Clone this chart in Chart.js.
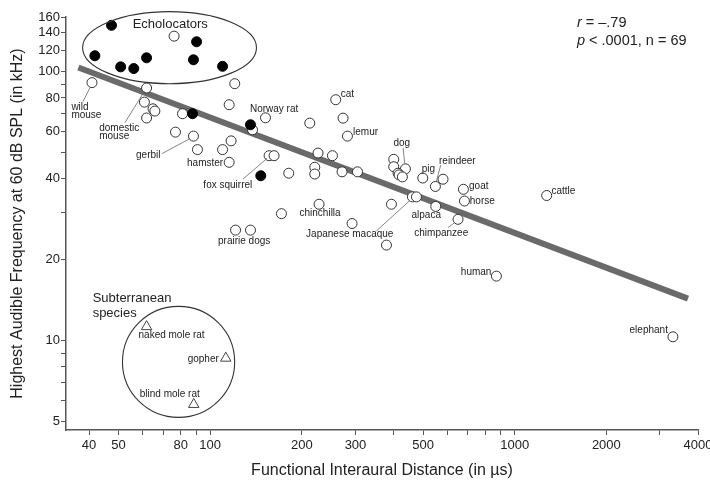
<!DOCTYPE html>
<html>
<head>
<meta charset="utf-8">
<script src="https://cdn.jsdelivr.net/npm/chart.js@4.4.1/dist/chart.umd.min.js"></script>
<style>
    html, body { margin: 0; background: #fff; }
    #wrap { width: 710px; height: 481px; }
</style>
</head>
<body>
<div id="wrap"><canvas id="chart"></canvas></div>
<script>
// Functional interaural distance (µs) vs highest audible frequency (kHz)
const openIAD  = [40.9, 61.8, 120.4, 115.4, 60.8, 64.9, 65.8, 61.8, 81.1, 151.9, 212.3, 137.7, 76.9, 88.1, 90.8, 109.8, 117.1, 115.4, 156.1, 162.1, 181.1, 220.5, 220.5, 226, 258.4, 273.1, 282.3, 252, 271, 304.6, 400.6, 400.6, 437.7, 414, 417.1, 427.8, 499, 549, 581.6, 678.6, 684, 227.8, 171.4, 393.7, 461.5, 475.7, 550.5, 651.6, 292.3, 379.2, 121.1, 135.6, 1274, 870.9, 3309, 76.1];
const openFreq = [91.2, 87.1, 90.4, 75.5, 77.2, 72.9, 71.5, 67.4, 69.9, 67.5, 64.5, 60.9, 59.7, 57.7, 51.4, 51.4, 55.4, 46.1, 48.8, 48.8, 42.0, 44.2, 41.7, 49.9, 78.8, 67.3, 57.7, 48.8, 42.5, 42.5, 47.3, 44.4, 43.6, 42.0, 41.4, 40.7, 40.3, 37.5, 39.9, 36.6, 33.1, 32.2, 29.7, 32.2, 34.3, 34.3, 31.6, 28.3, 27.3, 22.7, 25.8, 25.8, 34.7, 17.4, 10.35, 135.8];

const echoIAD  = [47.4, 41.8, 50.8, 56.1, 61.8, 90.2, 88.1, 109.8, 87.5, 135.6, 146.6];
const echoFreq = [149, 114.8, 104.4, 102.9, 112.8, 129.4, 110.9, 104.9, 69.9, 63.6, 41.1];

const subIAD  = [61.8, 112.5, 88.3];
const subFreq = [11.29, 8.62, 5.8];

const fitIAD  = [36.9, 3707];
const fitFreq = [103.8, 14.35];

const xTicks  = [40, 50, 60, 70, 80, 90, 100, 200, 300, 400, 500, 600, 700, 800, 900, 1000, 2000, 3000, 4000];
const xLabels = [40, 50, 80, 100, 200, 300, 500, 1000, 2000, 4000];
const yTicks  = [5, 6, 7, 8, 9, 10, 20, 30, 40, 50, 60, 70, 80, 90, 100, 120, 140, 160];
const yLabels = [5, 10, 20, 40, 60, 80, 100, 120, 140, 160];

// species names: anchored on a point, nudged in pixels
const pointLabels = [
    { text: 'wild', x: 40.9, y: 91.2, dx: -20.6, dy: 24.3, align: 'left' },
    { text: 'mouse', x: 40.9, y: 91.2, dx: -20.6, dy: 32.7, align: 'left' },
    { text: 'domestic', x: 61.8, y: 87.1, dx: -47.4, dy: 40, align: 'left' },
    { text: 'mouse', x: 61.8, y: 87.1, dx: -47.4, dy: 48.4, align: 'left' },
    { text: 'gerbil', x: 88.1, y: 57.7, dx: -33, dy: 18.7, align: 'right' },
    { text: 'hamster', x: 115.4, y: 46.1, dx: -6, dy: 1, align: 'right' },
    { text: 'fox squirrel', x: 156.1, y: 48.8, dx: -41.3, dy: 29.3, align: 'center' },
    { text: 'Norway rat', x: 151.9, y: 67.5, dx: 8.6, dy: -8.3, align: 'center' },
    { text: 'cat', x: 258.4, y: 78.8, dx: 5, dy: -5.3, align: 'left' },
    { text: 'lemur', x: 282.3, y: 57.7, dx: 5.6, dy: -4, align: 'left' },
    { text: 'dog', x: 437.7, y: 43.6, dx: -3.7, dy: -26, align: 'center' },
    { text: 'pig', x: 499, y: 40.3, dx: 5.7, dy: -9, align: 'center' },
    { text: 'reindeer', x: 549, y: 37.5, dx: 3.6, dy: -25.6, align: 'left' },
    { text: 'goat', x: 678.6, y: 36.6, dx: 5.6, dy: -2.7, align: 'left' },
    { text: 'horse', x: 684, y: 33.1, dx: 5.3, dy: 0, align: 'left' },
    { text: 'cattle', x: 1274, y: 34.7, dx: 4.7, dy: -4.6, align: 'left' },
    { text: 'alpaca', x: 550.5, y: 31.6, dx: -9.5, dy: 8.7, align: 'center' },
    { text: 'chimpanzee', x: 651.6, y: 28.3, dx: -16.8, dy: 14.3, align: 'center' },
    { text: 'human', x: 870.9, y: 17.4, dx: -5, dy: -4, align: 'right' },
    { text: 'elephant', x: 3309, y: 10.35, dx: -5, dy: -6.3, align: 'right' },
    { text: 'chinchilla', x: 227.8, y: 32.2, dx: 1, dy: 9, align: 'center' },
    { text: 'Japanese macaque', x: 461.5, y: 34.3, dx: -62.7, dy: 37.3, align: 'center' },
    { text: 'prairie dogs', x: 121.1, y: 25.8, dx: 8.6, dy: 10.7, align: 'center' },
    { text: 'naked mole rat', x: 61.8, y: 11.29, dx: 25, dy: 9, align: 'center' },
    { text: 'gopher', x: 112.5, y: 8.62, dx: -7, dy: 0.7, align: 'right' },
    { text: 'blind mole rat', x: 88.3, y: 5.8, dx: -24, dy: -10.3, align: 'center' }
];

// leader lines from a point out to its name
const leaders = [
    { x: 40.9, y: 91.2, from: [-2, 5], to: [-9, 19] },
    { x: 61.8, y: 87.1, from: [-2, 3], to: [-21.7, 34.7] },
    { x: 88.1, y: 57.7, from: [-3.5, 2.5], to: [-31.5, 17.5] },
    { x: 156.1, y: 48.8, from: [-2, 2.6], to: [-26, 23.3] },
    { x: 437.7, y: 43.6, from: [-2.4, -21], to: [-0.7, -5.3] },
    { x: 549, y: 37.5, from: [5.3, -21.3], to: [1, -5.3] },
    { x: 651.6, y: 28.3, from: [-10, 8.3], to: [-3, 3] },
    { x: 461.5, y: 34.3, from: [-3, 4], to: [-36, 34] }
];

// group outlines, as data-space bounding boxes
const groups = [
    { x0: 38.1, x1: 141.9, y0: 90.4, y1: 167.5 },
    { x0: 51.5, x1: 120.3, y0: 5.19, y1: 13.43 }
];

const FONT = 'Arial, "Liberation Sans", sans-serif';

function toPoints(xs, ys) {
    return xs.map((v, i) => ({ x: v, y: ys[i] }));
}

const annotate = {
    id: 'annotate',
    afterDatasetsDraw(chart) {
        const { ctx, scales: { x, y } } = chart;
        const px = v => x.getPixelForValue(v);
        const py = v => y.getPixelForValue(v);
        ctx.save();

        ctx.strokeStyle = '#333';
        ctx.lineWidth = 1.1;
        groups.forEach(g => {
            const l = px(g.x0), r = px(g.x1), t = py(g.y1), b = py(g.y0);
            ctx.beginPath();
            ctx.ellipse((l + r) / 2, (t + b) / 2, (r - l) / 2, (b - t) / 2, 0, 0, Math.PI * 2);
            ctx.stroke();
        });

        ctx.strokeStyle = '#666';
        ctx.lineWidth = 0.8;
        leaders.forEach(d => {
            const bx = px(d.x), by = py(d.y);
            ctx.beginPath();
            ctx.moveTo(bx + d.from[0], by + d.from[1]);
            ctx.lineTo(bx + d.to[0], by + d.to[1]);
            ctx.stroke();
        });

        ctx.fillStyle = '#222';
        ctx.textBaseline = 'middle';
        ctx.font = '10px ' + FONT;
        pointLabels.forEach(l => {
            ctx.textAlign = l.align;
            ctx.fillText(l.text, px(l.x) + l.dx, py(l.y) + l.dy);
        });

        ctx.font = '13px ' + FONT;
        ctx.textAlign = 'center';
        ctx.fillText('Echolocators', px(73.9), py(150.2));
        ctx.textAlign = 'left';
        ctx.fillText('Subterranean', px(41.1), py(14.32));
        ctx.fillText('species', px(41.1), py(12.6));

        // statistics
        const sx = px(1601);
        const lines = [['r', ' = \u2013.79', 151.5], ['p', ' < .0001, n = 69', 130.1]];
        lines.forEach(([it, rest, yv]) => {
            ctx.font = 'italic 14.5px ' + FONT;
            ctx.fillText(it, sx, py(yv));
            const w = ctx.measureText(it).width;
            ctx.font = '14.5px ' + FONT;
            ctx.fillText(rest, sx + w, py(yv));
        });

        ctx.restore();
    }
};

const ctx = document.getElementById('chart').getContext('2d');
new Chart(ctx, {
    type: 'scatter',
    data: {
        datasets: [
            {
                label: 'fit',
                data: toPoints(fitIAD, fitFreq),
                showLine: true,
                borderColor: '#6a6a6a',
                borderWidth: 6,
                pointRadius: 0,
                order: 4
            },
            {
                label: 'other',
                data: toPoints(openIAD, openFreq),
                pointStyle: 'circle',
                pointRadius: 5,
                backgroundColor: '#fff',
                borderColor: '#333',
                borderWidth: 1,
                order: 2
            },
            {
                label: 'echolocators',
                data: toPoints(echoIAD, echoFreq),
                pointStyle: 'circle',
                pointRadius: 5,
                backgroundColor: '#000',
                borderColor: '#000',
                borderWidth: 1,
                order: 1
            },
            {
                label: 'subterranean',
                data: toPoints(subIAD, subFreq),
                pointStyle: 'triangle',
                pointRadius: 6,
                backgroundColor: '#fff',
                borderColor: '#444',
                borderWidth: 1,
                order: 1
            }
        ]
    },
    options: {
        responsive: true,
        maintainAspectRatio: false,
        animation: false,
        layout: { padding: { top: 17, right: 12, left: 0, bottom: 0 } },
        plugins: {
            legend: { display: false },
            tooltip: { enabled: false }
        },
        scales: {
            x: {
                type: 'logarithmic',
                min: 33.6,
                max: 4000,
                afterBuildTicks: s => { s.ticks = xTicks.map(v => ({ value: v })); },
                afterFit: s => { s.height = 51; s.paddingRight = 0; s.paddingLeft = 0; },
                ticks: {
                    autoSkip: false,
                    maxRotation: 0,
                    padding: 3,
                    color: '#222',
                    font: { family: FONT, size: 13 },
                    callback: v => xLabels.includes(v) ? String(v) : ''
                },
                grid: { drawOnChartArea: false, drawTicks: true, tickLength: 5, color: '#555' },
                border: { display: true, color: '#555', width: 1.5 },
                title: {
                    display: true,
                    text: 'Functional Interaural Distance (in \u00b5s)',
                    color: '#222',
                    font: { family: FONT, size: 16 },
                    padding: { top: 1, bottom: 1 }
                }
            },
            y: {
                type: 'logarithmic',
                min: 4.66,
                max: 160,
                afterBuildTicks: s => { s.ticks = yTicks.map(v => ({ value: v })); },
                afterFit: s => { s.width = 66; },
                ticks: {
                    autoSkip: false,
                    padding: 1,
                    color: '#222',
                    font: { family: FONT, size: 13 },
                    callback: v => yLabels.includes(v) ? String(v) : ''
                },
                grid: { drawOnChartArea: false, drawTicks: true, tickLength: 5, color: '#555' },
                border: { display: true, color: '#555', width: 1.5 },
                title: {
                    display: true,
                    text: 'Highest Audible Frequency at 60 dB SPL (in kHz)',
                    color: '#222',
                    font: { family: FONT, size: 16 },
                    padding: { top: 8, bottom: 0 }
                }
            }
        }
    },
    plugins: [annotate]
});
</script>
</body>
</html>
